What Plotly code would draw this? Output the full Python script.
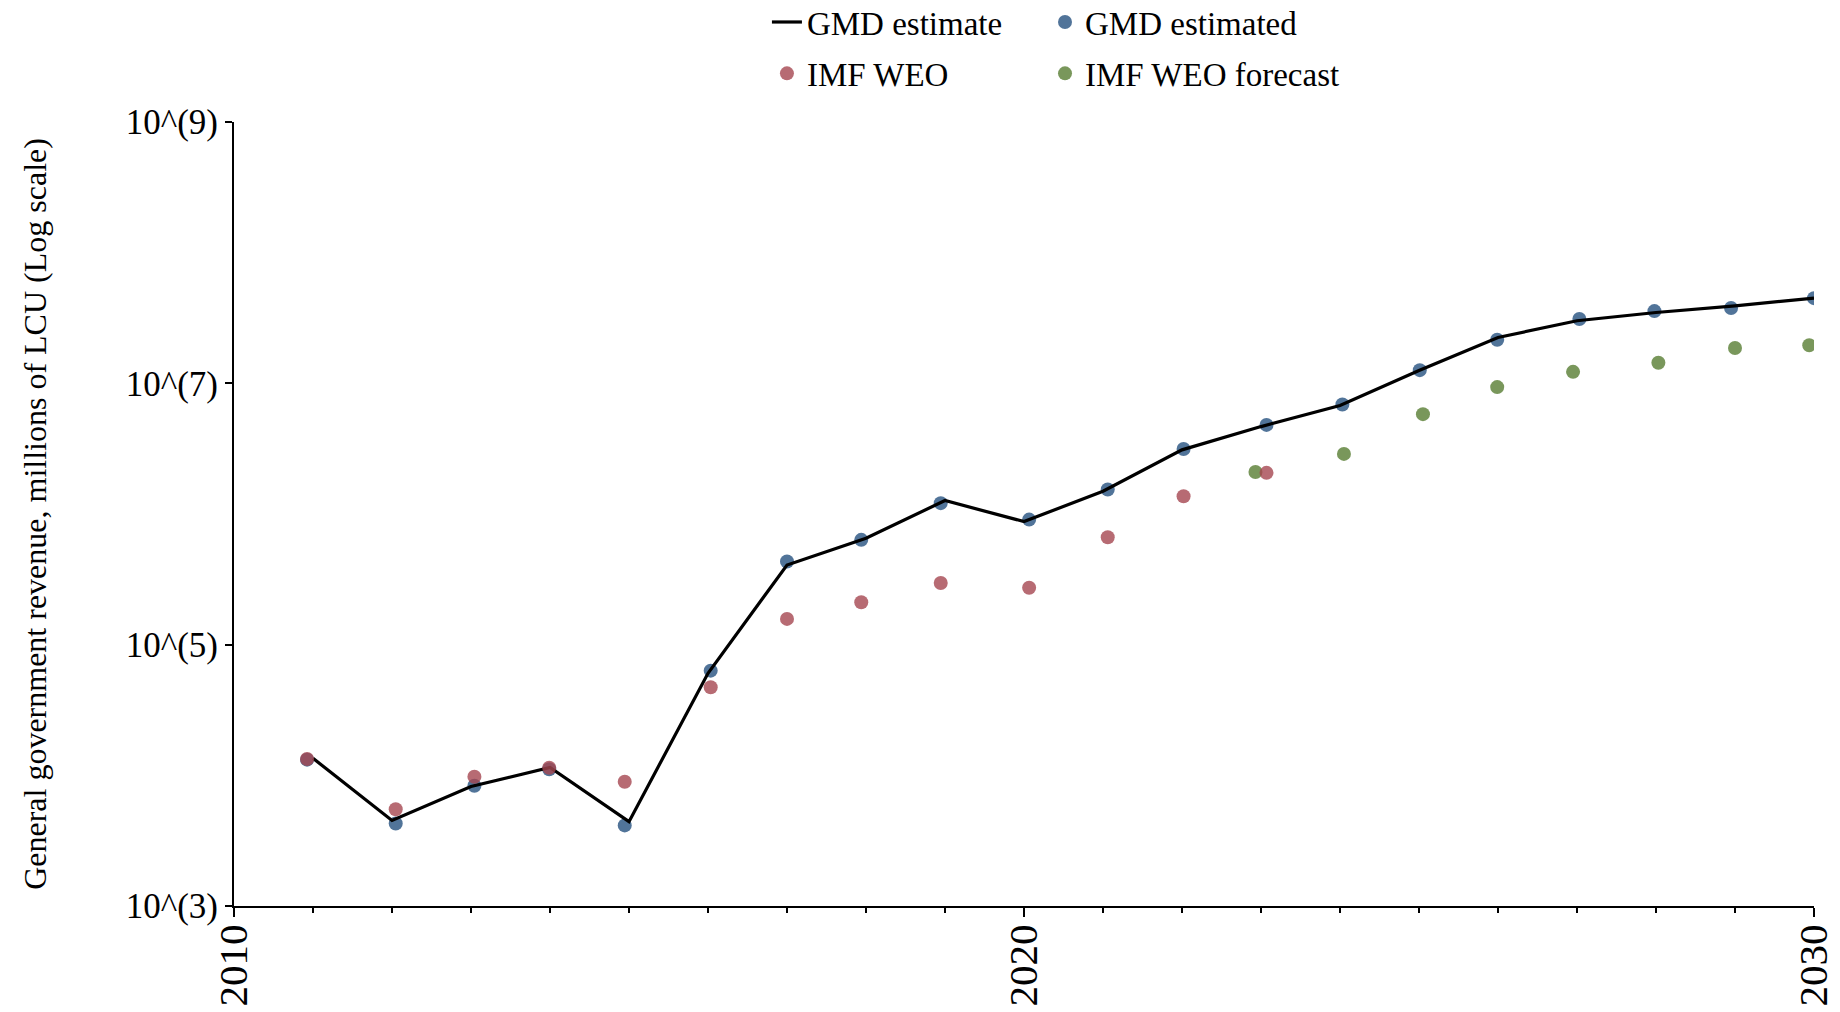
import plotly.graph_objects as go

# ---- data (millions of LCU) ----
line_years = [2011, 2012, 2013, 2014, 2015, 2016, 2017, 2018, 2019, 2020,
              2021, 2022, 2023, 2024, 2025, 2026, 2027, 2028, 2029, 2030]
gmd_estimate = [13500, 4520, 8220, 11500, 4420, 60300, 407000, 653000, 1268000, 875000,
                1493000, 3097000, 4667000, 6761000, 12531000, 22439000, 30130000,
                34834000, 39174000, 44875000]

gmd_pts_x = [2010.925, 2012.047, 2013.043, 2013.99, 2014.946, 2016.034, 2017.0, 2017.94,
             2018.946, 2020.065, 2021.06, 2022.02, 2023.07, 2024.03, 2025.01, 2025.99,
             2027.03, 2027.98, 2028.95, 2030.0]
gmd_estimated = [13180, 4285, 8318, 11117, 4140, 63241, 432500, 633870, 1210600, 905700,
                 1538200, 3147800, 4808600, 6886500, 12618000, 21528000, 31046000,
                 35727000, 37670000, 44875000]

weo_x = [2010.925, 2012.047, 2013.043, 2013.99, 2014.946, 2016.034, 2017.0, 2017.94,
         2018.946, 2020.065, 2021.06, 2022.02, 2023.07]
imf_weo = [13335, 5495, 9750, 11429, 8933, 47206, 157400, 211350, 296500, 272900,
           663700, 1367700, 2065400]

fc_x = [2022.93, 2024.05, 2025.05, 2025.99, 2026.95, 2028.03, 2029.0, 2029.94]
imf_forecast = [2098900, 2884000, 5807600, 9354000, 12246000, 14355000, 18621000, 19588000]

x_tickvals = [2010, 2020, 2030]
y_tickvals = [1e3, 1e5, 1e7, 1e9]
y_ticktext = ["10^(3)", "10^(5)", "10^(7)", "10^(9)"]

FONT = "Liberation Serif, Times New Roman, serif"
BLUE = "rgba(50,92,135,0.85)"
RED = "rgba(165,70,80,0.8)"
GREEN = "rgba(98,133,62,0.85)"
MSIZE = 14

fig = go.Figure()
fig.add_trace(go.Scatter(x=gmd_pts_x, y=gmd_estimated, mode="markers", name="GMD estimated",
                         marker=dict(color=BLUE, size=MSIZE, line=dict(width=0)),
                         legend="legend2"))
fig.add_trace(go.Scatter(x=line_years, y=gmd_estimate, mode="lines", name="GMD estimate",
                         line=dict(color="black", width=3.2),
                         legend="legend"))
fig.add_trace(go.Scatter(x=fc_x, y=imf_forecast, mode="markers", name="IMF WEO forecast",
                         marker=dict(color=GREEN, size=MSIZE, line=dict(width=0)),
                         legend="legend4"))
fig.add_trace(go.Scatter(x=weo_x, y=imf_weo, mode="markers", name="IMF WEO",
                         marker=dict(color=RED, size=MSIZE, line=dict(width=0)),
                         legend="legend3"))

leg = dict(orientation="v", xanchor="left", yanchor="middle",
           font=dict(family=FONT, size=33, color="black"),
           itemwidth=30, bgcolor="rgba(0,0,0,0)")
COL1, COL2 = 0.3373, 0.5133
ROW1, ROW2 = 1.1275, 1.062

fig.update_layout(
    width=1840, height=1012,
    margin=dict(l=234, r=26, t=122, b=106, autoexpand=False),
    paper_bgcolor="white", plot_bgcolor="white",
    font=dict(family=FONT, size=32, color="black"),
    showlegend=True,
    legend=dict(x=COL1, y=ROW1, **leg),
    legend2=dict(x=COL2, y=ROW1, **leg),
    legend3=dict(x=COL1, y=ROW2, **leg),
    legend4=dict(x=COL2, y=ROW2, **leg),
    xaxis=dict(range=[2010, 2030], tickvals=x_tickvals, ticktext=[str(v) for v in x_tickvals],
               tickangle=-90, ticks="outside", ticklen=9, tickwidth=2, tickcolor="black",
               showline=True, linecolor="black", linewidth=2, showgrid=False, zeroline=False,
               tickfont=dict(family=FONT, size=41, color="black"), ticklabelstandoff=-9,
               minor=dict(dtick=1, tick0=2010, ticks="outside", ticklen=5, tickwidth=1.5,
                          tickcolor="black", showgrid=False)),
    yaxis=dict(type="log", range=[3, 9], tickvals=y_tickvals, ticktext=y_ticktext,
               ticks="outside", ticklen=7, tickwidth=2, tickcolor="black",
               showline=True, linecolor="black", linewidth=2, showgrid=False, zeroline=False,
               tickfont=dict(family=FONT, size=35, color="black"),
               title=dict(text="General government revenue, millions of LCU (Log scale)",
                          font=dict(family=FONT, size=32, color="black"), standoff=70)),
)

fig.write_html("out.html", config={"displayModeBar": False},
               post_script="document.body.style.margin='0';")
